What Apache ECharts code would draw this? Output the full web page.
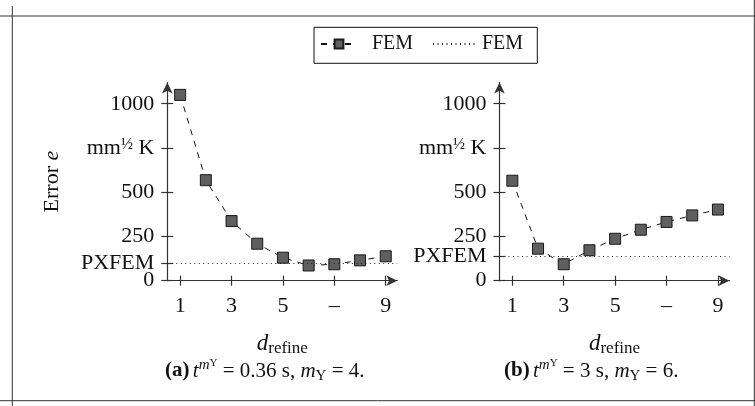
<!DOCTYPE html>
<html>
<head>
<meta charset="utf-8">
<script src="https://cdn.jsdelivr.net/npm/echarts@6/dist/echarts.min.js"></script>
<style>
  html, body { margin: 0; padding: 0; background: #fff; }
  #chart { width: 755px; height: 406px; }
</style>
</head>
<body>
<div id="chart"></div>
<script>
// d_refine values and the error readings for both sub-plots
const refineSteps = [1, 2, 3, 4, 5, 6, 7, 8, 9]
const errorA = [1050, 568, 337, 209, 130, 86, 93, 115, 138]
const errorB = [565, 181, 93, 172, 237, 288, 332, 369, 402]
// PXFEM reference level of each sub-plot
const pxfemA = 100
const pxfemB = 140
// tick values and labels
const xTicks = [1, 3, 5, 7, 9]
const xTickLabels = ['1', '3', '5', '–', '9']
const yTicks = [0, 250, 500, 750, 1000]
const yTickLabels = ['0', '250', '500', '{a|mm}{f|½}{a| K}', '1000']
const pxfemLabel = 'PXFEM'

const serif = 'Liberation Serif'
const axisColor = '#333'

let myChart = echarts.init(document.getElementById('chart'))

function pairs(ys) {
  return refineSteps.map((x, i) => [x, ys[i]])
}

function xAxes(grid) {
  const base = {
    type: 'value', gridIndex: grid, min: 0.5, max: 9.45, position: 'bottom',
    splitLine: { show: false }
  }
  return [
    Object.assign({}, base, {
      axisLine: { show: true, lineStyle: { color: axisColor, width: 1.2 }, symbol: ['none', 'arrow'], symbolSize: [8, 11] },
      axisTick: { show: true, length: 5, customValues: xTicks, lineStyle: { color: axisColor, width: 1.2 } },
      axisLabel: {
        customValues: xTicks, margin: 15, color: '#111', fontFamily: serif, fontSize: 22,
        hideOverlap: false,
        formatter: v => xTickLabels[xTicks.indexOf(v)]
      },
      name: '{i|d}{s|refine}',
      nameLocation: 'middle',
      nameGap: 52,
      nameTextStyle: {
        rich: {
          i: { fontFamily: serif, fontStyle: 'italic', fontSize: 23, color: '#111', lineHeight: 23 },
          s: { fontFamily: serif, fontSize: 17, color: '#111', lineHeight: 17, padding: [9, 0, 0, 0] }
        }
      }
    }),
    // inner half of the crossing ticks
    Object.assign({}, base, {
      axisLine: { show: false },
      axisTick: { show: true, inside: true, length: 5, customValues: xTicks, lineStyle: { color: axisColor, width: 1.2 } },
      axisLabel: { show: false }
    })
  ]
}

function yAxes(grid, pxfem, withName) {
  const ticks = yTicks.concat([pxfem])
  const base = {
    type: 'value', gridIndex: grid, min: 0, max: 1120, position: 'left',
    splitLine: { show: false }
  }
  const labelStyle = { margin: 13, color: '#111', fontFamily: serif, fontSize: 22, hideOverlap: false }
  const main = Object.assign({}, base, {
    axisLine: { show: true, lineStyle: { color: axisColor, width: 1.2 }, symbol: ['none', 'arrow'], symbolSize: [8, 11] },
    axisTick: { show: true, length: 6, customValues: ticks, lineStyle: { color: axisColor, width: 1.2 } },
    axisLabel: Object.assign({}, labelStyle, {
      customValues: yTicks,
      formatter: v => yTickLabels[yTicks.indexOf(v)],
      rich: {
        a: { fontFamily: serif, fontSize: 22, color: '#111' },
        f: { fontFamily: serif, fontSize: 16, color: '#111', padding: [0, 0, 6, 0] }
      }
    })
  })
  if (withName) {
    main.name = 'Error {i|e}'
    main.nameLocation = 'middle'
    main.nameGap = 104
    main.nameTextStyle = {
      fontFamily: serif, fontSize: 22, color: '#111',
      rich: { i: { fontFamily: serif, fontStyle: 'italic', fontSize: 22, color: '#111' } }
    }
  }
  return [
    main,
    // inner half of the crossing ticks, plus the PXFEM label
    Object.assign({}, base, {
      axisLine: { show: false },
      axisTick: { show: true, inside: true, length: 6, customValues: ticks, lineStyle: { color: axisColor, width: 1.2 } },
      axisLabel: Object.assign({}, labelStyle, {
        customValues: [pxfem],
        formatter: () => pxfemLabel
      })
    })
  ]
}

function femSeries(axis, ys) {
  return {
    name: 'FEM-a', type: 'line', xAxisIndex: axis, yAxisIndex: axis,
    data: pairs(ys),
    symbol: 'rect', symbolSize: 11,
    itemStyle: { color: '#5f5f5f', borderColor: '#1a1a1a', borderWidth: 1 },
    lineStyle: { color: '#111', width: 1, type: [6, 6] },
    z: 3
  }
}

function pxfemSeries(axis, level) {
  return {
    name: 'FEM-b', type: 'line', xAxisIndex: axis, yAxisIndex: axis,
    data: [], symbol: 'none', showSymbol: false,
    itemStyle: { color: '#222' },
    lineStyle: { color: '#222', width: 1, type: [1, 3.5] },
    markLine: {
      silent: true, symbol: 'none', label: { show: false },
      lineStyle: { color: '#222', width: 1, type: [1, 3.5] },
      data: [{ yAxis: level }]
    },
    z: 2
  }
}

const legendText = { fontFamily: serif, fontSize: 20, color: '#111' }

const captionRich = {
  b: { fontFamily: serif, fontWeight: 'bold', fontSize: 21, fill: '#111', lineHeight: 26 },
  n: { fontFamily: serif, fontSize: 21, fill: '#111', lineHeight: 26 },
  i: { fontFamily: serif, fontStyle: 'italic', fontSize: 21, fill: '#111', lineHeight: 26 },
  p: { fontFamily: serif, fontStyle: 'italic', fontSize: 15, fill: '#111', verticalAlign: 'top', lineHeight: 16 },
  q: { fontFamily: serif, fontSize: 11, fill: '#111', verticalAlign: 'top', lineHeight: 20 },
  s: { fontFamily: serif, fontSize: 15, fill: '#111', verticalAlign: 'bottom', lineHeight: 18 }
}

const option = {
  animation: false,
  grid: [
    { left: 167.3, top: 82.5, width: 230, height: 198.2 },
    { left: 499.5, top: 82.5, width: 230, height: 198.2 }
  ],
  xAxis: [].concat(xAxes(0), xAxes(1)),
  yAxis: [].concat(yAxes(0, pxfemA, true), yAxes(1, pxfemB, false)),
  legend: [
    {
      data: ['FEM-a'], left: 320, top: 34, padding: 0,
      itemWidth: 36, itemHeight: 11,
      formatter: () => '  FEM', textStyle: legendText
    },
    {
      data: [{ name: 'FEM-b', itemStyle: { opacity: 0 } }], left: 432, top: 34, padding: 0,
      itemWidth: 44, itemHeight: 11,
      formatter: () => 'FEM', textStyle: legendText
    }
  ],
  series: [
    // axis indices 0 and 2 are the labelled axes of each grid
    femSeries(0, errorA),
    femSeries(2, errorB),
    pxfemSeries(0, pxfemA),
    pxfemSeries(2, pxfemB)
  ],
  graphic: [
    // legend frame
    { type: 'rect', shape: { x: 314, y: 27.3, width: 223.3, height: 36 }, style: { fill: 'none', stroke: '#111', lineWidth: 1 } },
    // page frame lines
    { type: 'line', shape: { x1: 0, y1: 16, x2: 755, y2: 16 }, style: { stroke: '#333', lineWidth: 1 } },
    { type: 'line', shape: { x1: 0, y1: 400.7, x2: 755, y2: 400.7 }, style: { stroke: '#333', lineWidth: 1 } },
    { type: 'line', shape: { x1: 12.3, y1: 6, x2: 12.3, y2: 406 }, style: { stroke: '#333', lineWidth: 1 } },
    { type: 'line', shape: { x1: 754.3, y1: 0, x2: 754.3, y2: 406 }, style: { stroke: '#333', lineWidth: 1 } },
    // captions
    {
      type: 'text', left: 165, top: 358,
      style: { text: '{b|(a)} {i|t}{p|m}{q|Y}{n| = 0.36 s, }{i|m}{s|Y}{n| = 4.}', rich: captionRich }
    },
    {
      type: 'text', left: 504, top: 358,
      style: { text: '{b|(b)} {i|t}{p|m}{q|Y}{n| = 3 s, }{i|m}{s|Y}{n| = 6.}', rich: captionRich }
    }
  ]
}

myChart.setOption(option)
</script>
</body>
</html>
